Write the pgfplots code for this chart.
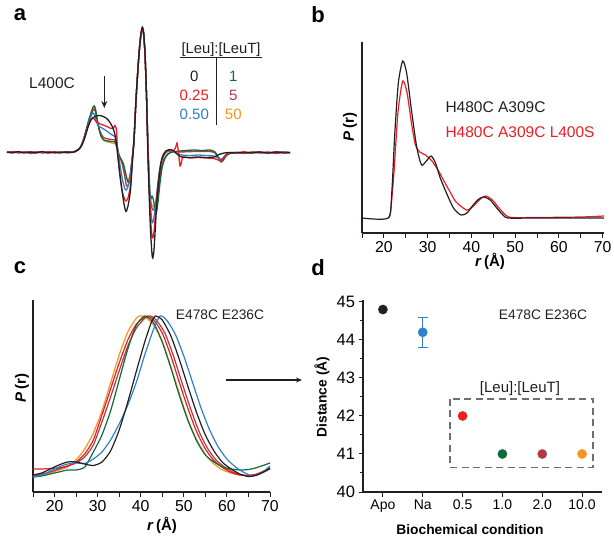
\documentclass[border=0pt]{standalone}
\usepackage{pgfplots}
\pgfplotsset{compat=1.18}
\usepackage{fontspec}
\setmainfont{Liberation Sans}
\usetikzlibrary{arrows.meta}
\definecolor{cblack}{HTML}{231F20}
\definecolor{cred}{HTML}{ED1C24}
\definecolor{cblue}{HTML}{2F80C8}
\definecolor{cgreen}{HTML}{0D6B3C}
\definecolor{cmaroon}{HTML}{B03A48}
\definecolor{corange}{HTML}{F7941D}
\definecolor{cgray}{HTML}{6D6E71}
\newcommand{\fs}[1]{\fontsize{#1}{#1}\selectfont}
\pgfplotsset{
  panel/.style={scale only axis, axis lines*=left, clip=false,
    axis line style={line width=1.2pt, cblack},
    tick align=outside, major tick length=4.5pt, minor tick length=4.5pt,
    every tick/.style={line width=1pt, cblack},
    tick label style={font=\fs{15.8}},
    /pgf/number format/assume math mode=true},
}
\begin{document}
\begin{tikzpicture}
\useasboundingbox (0,0) rectangle (614pt,-541pt);
% ---------------- panel a
\begin{axis}[at={(0pt,0pt)}, anchor=north west, scale only axis, width=300pt, height=270pt,
  xmin=0, xmax=300, ymin=-270, ymax=0, hide axis, clip=false]
\addplot[corange, line width=1.3pt, smooth, tension=0.4] coordinates {(7,-152)(40,-152.5)(73,-152)(77,-150.5)(80,-148)(83,-141)(86,-131)(88.5,-121)(91,-114)(93,-109)(94.5,-108)(96,-112)(98,-124)(100,-133)(103,-140)(108,-142)(112,-143)(115,-143.5)(117,-148)(119,-156)(122,-162)(125,-172)(127.5,-180)(130,-176)(132,-160)(134,-140)(136,-100)(138,-68)(139.5,-48)(141,-34)(142.3,-29)(143.5,-33)(145,-54)(146.5,-95)(147.5,-130)(149,-182)(151,-203)(153,-206)(155,-208)(157,-203)(159,-188)(161,-172)(164,-160)(168,-154)(172,-152)(180,-151.5)(195,-151)(210,-151)(215,-152.5)(219,-158)(221.5,-160)(224,-158)(228,-154)(236,-152.5)(260,-152.5)(290,-152.5)};
\addplot[cmaroon, line width=1.3pt, smooth, tension=0.4] coordinates {(7,-152)(40,-152.5)(73,-152)(77,-150.5)(80,-148)(83,-141)(86,-131)(88.5,-122)(91,-115)(93,-110)(94.5,-109.5)(96,-114)(98,-124)(100,-131)(103,-137)(108,-139)(112,-139.5)(115,-140)(117,-146)(119,-155)(122,-163)(124.5,-175)(126.5,-186)(128.5,-184)(130.5,-172)(132.5,-156)(134,-140)(136,-100)(138,-68)(139.5,-48)(141,-34)(142.3,-29)(143.5,-33)(145,-54)(146.5,-95)(147.5,-130)(149,-180)(151,-204)(153,-210)(155,-208)(157,-200)(159,-185)(161,-170)(164,-159)(168,-154)(172,-152)(180,-152)(195,-151.5)(210,-151.5)(215,-153)(219,-158)(221.5,-160)(224,-157.5)(228,-154)(236,-152.5)(260,-152.5)(290,-152.5)};
\addplot[cgreen, line width=1.3pt, smooth, tension=0.4] coordinates {(7,-152)(20,-152.5)(35,-152)(50,-152.5)(65,-152)(73,-152)(77,-150.5)(80,-148)(83,-141)(86,-131)(88.5,-121)(91,-113)(93,-107)(94.2,-106)(95.5,-109)(97,-119)(99,-129)(101,-136)(104,-140)(108,-141)(112,-141.5)(115,-142)(117,-147)(119,-155)(121,-159)(123.5,-164)(126,-175)(128,-182)(130,-178)(132,-160)(134,-140)(136,-100)(138,-68)(139.5,-48)(141,-34)(142.3,-29)(143.5,-33)(145,-54)(146.5,-95)(147.5,-130)(149,-185)(150.5,-199)(152,-196)(153.5,-200)(155,-210)(156.5,-212)(158,-202)(160,-183)(162,-168)(165,-158)(168,-154)(172,-152)(176,-151.5)(180,-151)(186,-150.5)(194,-150)(202,-150.5)(210,-150)(215,-152)(218.5,-158)(221,-162)(223.5,-160)(226,-156)(230,-153.5)(238,-152.5)(248,-153)(258,-152)(268,-153)(278,-152)(290,-152.5)};
\addplot[cblue, line width=1.3pt, smooth, tension=0.4] coordinates {(7,-152)(15,-152.5)(25,-152)(35,-152.5)(45,-152)(55,-152.5)(65,-152)(73,-152)(77,-150.5)(80,-148)(83,-142)(86,-133)(89,-122)(91.5,-115)(93,-113)(94.5,-115)(96.5,-122)(98.5,-126)(102,-128)(106,-130.5)(110,-133.5)(113,-135.5)(115,-136.5)(116.5,-142)(118,-152)(120,-165)(122.5,-180)(125,-189)(126.5,-190)(128.5,-185)(130.5,-175)(132.5,-158)(134,-140)(136,-100)(138,-68)(139.5,-48)(141,-34)(142.3,-29)(143.5,-33)(145,-54)(146.5,-95)(147.5,-130)(149,-170)(150.5,-205)(151.8,-221)(153,-222)(154.5,-214)(156,-200)(158,-182)(160,-168)(162.5,-158)(166,-152.5)(170,-151)(174,-152)(178,-154)(182,-155)(190,-155.5)(198,-155)(206,-155.5)(214,-156)(218,-158)(221,-159.5)(224,-157)(228,-153)(236,-152.5)(246,-153)(256,-152)(266,-153)(276,-152)(290,-152.5)};
\addplot[cred, line width=1.3pt, smooth, tension=0.4] coordinates {(7,-152.5)(13,-151.5)(19,-153)(25,-152)(31,-153.5)(37,-152)(43,-153)(49,-151.5)(55,-153)(61,-152)(67,-153)(73,-152)(77,-150.5)(80,-148)(83,-142)(86,-133)(89,-124)(91.5,-118.5)(93.5,-118)(96,-121.5)(99,-123.5)(103,-125)(107,-126.5)(111,-128.5)(113.5,-128)(115,-125.5)(116.5,-130)(117.5,-150)(119.5,-172)(122,-190)(124.5,-199)(126,-201)(128,-198)(130.5,-185)(132.5,-160)(134,-140)(136,-100)(138,-68)(139.5,-48)(141,-34)(142.3,-29)(143.5,-33)(145,-54)(146.5,-95)(147.5,-135)(149,-180)(150.5,-218)(152,-236)(152.8,-238)(154,-232)(155.5,-214)(157,-195)(159,-176)(161,-162)(163,-155)(166,-151)(170,-150.5)(173,-151)(175.5,-148)(177,-143)(178.5,-152)(180,-166)(181.5,-162)(183,-157)(190,-158)(198,-157.5)(206,-158)(214,-158.5)(218,-160)(221,-161)(224,-157)(228,-153)(236,-152.5)(244,-153.5)(252,-152)(260,-153)(268,-152)(276,-153.5)(284,-152)(290,-153)};
\addplot[cblack, line width=1.3pt, smooth, tension=0.4] coordinates {(7,-152)(12,-153)(18,-151.5)(24,-153)(30,-152)(36,-153)(42,-151.5)(48,-153)(54,-152)(60,-153)(66,-152)(72,-152.5)(76,-151)(79,-149)(82,-145)(85,-137)(88,-127)(91,-120)(94,-117)(98,-115.5)(102,-116)(106,-118)(109,-121)(112,-126)(114,-131)(116,-140)(118,-158)(121,-183)(124,-204)(126,-211.5)(128,-206)(130.5,-190)(132.5,-160)(134,-140)(136,-100)(138,-68)(139.5,-48)(141,-33)(142.3,-27)(143.5,-31)(145,-52)(146.5,-95)(147.5,-140)(149,-190)(150.5,-230)(152,-254)(152.8,-258)(154,-250)(155.5,-225)(157,-200)(159,-178)(161,-163)(163,-156)(166,-151)(170,-149.5)(174,-151)(178,-155)(182,-157)(190,-157.5)(198,-157)(206,-157.5)(214,-157)(218,-155)(222,-153.5)(228,-152.5)(236,-153)(244,-152)(252,-153)(260,-152)(268,-153)(276,-152)(284,-153)(290,-152.5)};
\end{axis}
\node[font=\fs{22}\bfseries] at (20pt,-15pt) {a};
\node[font=\fs{15.5}, text=cblack] at (52pt,-82.7pt) {L400C};
\draw[-{Stealth[length=7pt,width=6pt]}, line width=1.3pt, cblack] (104.3pt,-76pt) -- (104.3pt,-108pt);
\node[font=\fs{14.8}, text=cblack] at (221pt,-50pt) {[Leu]:[LeuT]};
\draw[line width=0.9pt, cblack] (180pt,-57pt) -- (262pt,-57pt);
\draw[line width=1.2pt, cblack] (216.7pt,-58pt) -- (216.7pt,-125pt);
\node[font=\fs{15}, text=cblack] at (194.3pt,-76.7pt) {0};
\node[font=\fs{15}, text=cred] at (194.3pt,-95.7pt) {0.25};
\node[font=\fs{15}, text=cblue] at (194.3pt,-114pt) {0.50};
\node[font=\fs{15}, text=cgreen] at (233.3pt,-76.7pt) {1};
\node[font=\fs{15}, text=cmaroon] at (233.3pt,-95.7pt) {5};
\node[font=\fs{15}, text=corange] at (233.3pt,-114pt) {50};
% ---------------- panel b
\begin{axis}[panel, at={(362pt,-233pt)}, anchor=south west, width=242pt, height=191pt,
  xmin=15, xmax=70.3, ymin=0, ymax=191, ytick=\empty,
  xtick={20,30,40,50,60,70}, minor xtick={15,25,35,45,55,65}]
\addplot[cred, line width=1.2pt, smooth, tension=0.4] coordinates {(21,15)(21.5,20)(22.3,60)(23.2,120)(24.3,152)(25.3,140)(26.3,110)(27.2,88)(28.2,81)(29.5,78)(31,72)(32.5,62)(33.6,53)(35,42)(36.5,31)(38.9,23)(40.5,27)(42,34)(43.3,37)(44.8,33)(46.3,25)(47.8,18)(49.2,15.5)(55,15.5)(65,16)(70.3,17)};
\addplot[cblack, line width=1.2pt, smooth, tension=0.4] coordinates {(15,15)(21,15)(21.8,40)(22.5,100)(23.3,150)(24.3,172)(25.2,160)(26.3,123)(27.5,86)(28.6,68)(29.7,72)(30.8,77)(31.8,70)(32.8,56)(34.3,40)(35.9,25)(37.6,18)(39,20)(40.4,28)(41.7,34)(42.9,36)(44.3,33)(45.8,25)(47,19)(48.4,15)(55,15)(70.3,15)};
\end{axis}
\node[font=\fs{22}\bfseries] at (318pt,-15pt) {b};
\node[font=\fs{15.5}, text=cblack, anchor=west] at (442pt,-107pt) {H480C A309C};
\node[font=\fs{15.5}, text=cred, anchor=west] at (442pt,-132pt) {H480C A309C L400S};
\node[font=\fs{15}\bfseries, rotate=90] at (350pt,-127pt) {\textit{P}\,(r)};
\node[font=\fs{15}\bfseries] at (490pt,-261pt) {\textit{r}\,(Å)};
% ---------------- panel c
\begin{axis}[panel, at={(33pt,-492pt)}, anchor=south west, width=237pt, height=192pt,
  xmin=15, xmax=70, ymin=0, ymax=192, ytick=\empty,
  xtick={20,30,40,50,60,70}, minor xtick={15,25,35,45,55,65}]
\addplot[corange, line width=1.2pt, smooth, tension=0.4] coordinates {(15,15)(17,17)(19,19)(21,22)(23,25)(25,32)(27,43)(29,59)(31,81)(33,109)(35,137)(37,160)(39,174)(39.9,176)(41,175)(43,167)(45,150)(47,125)(49,98)(51,72)(53,52)(55,37.5)(57,28)(59,22)(61,19)(63,17)(65,16.5)(67,18)(70,24)};
\addplot[cmaroon, line width=1.2pt, smooth, tension=0.4] coordinates {(15,16)(17,18)(19,20)(21,23)(23,26)(25,29)(27,35)(29,47)(31,70)(33,95)(35,121)(37,146)(39,164)(41,174)(42.3,176)(43.6,172)(45.6,159)(47.6,136)(49.6,109)(51.6,83)(53.6,60)(55.6,43)(57.6,31.5)(59.6,24.5)(61.6,19.5)(63.6,17)(65.6,16.5)(67.6,18.5)(70,23)};
\addplot[cred, line width=1.2pt, smooth, tension=0.4] coordinates {(15,23)(17,23)(19,23.5)(21,24)(23,26)(25,30)(27,38)(29,52)(31,77)(33,103)(35,129)(37,152)(39,168)(41,175)(41.7,176)(43,172)(45,159)(47,136)(49,109)(51,83)(53,60)(55,43)(57,31.5)(59,24.5)(61,19.5)(63,17)(65,16.5)(67,18)(70,24)};
\addplot[cgreen, line width=1.2pt, smooth, tension=0.4] coordinates {(15,15)(17,16)(19,18)(21,20)(23,22)(25,22)(27,25)(29,40)(31,57)(33,81)(35,112)(37,143)(39,167)(41,176)(43,169)(45,150)(47,124)(49,96)(51,71)(53,51)(55,37)(57,30)(59,25)(61,23)(63,22)(65,22.5)(67,24.5)(70,29)};
\addplot[cblue, line width=1.2pt, smooth, tension=0.4] coordinates {(15,15)(17,17)(19,21)(21,25)(23,28)(25,29)(27,28.5)(29,33)(31,40)(33,52)(35,68)(37,87)(39,110)(41,138)(43,163)(44.5,176)(46,172)(48,158)(50,136)(52,110)(54,84)(56,62)(58,45)(60,33)(62,25)(64,19.5)(66,16)(68,19)(70,26)};
\addplot[cblack, line width=1.2pt, smooth, tension=0.4] coordinates {(15,17)(17,19)(19,23)(21,27)(23,30)(25,30)(27,28)(29,26.5)(31,30)(33,41)(35,62)(37,90)(39,121)(41,151)(42.5,170)(43.4,176)(45,172)(47,156)(49,132)(51,105)(53,79)(55,57)(57,41)(59,29.5)(61,23)(63,18)(65,15.5)(67,17)(69,21)(70,24)};
\end{axis}
\node[font=\fs{22}\bfseries] at (20pt,-268pt) {c};
\node[font=\fs{13.8}, text=cblack] at (220pt,-315pt) {E478C E236C};
\node[font=\fs{15}\bfseries, rotate=90] at (22pt,-388pt) {\textit{P}\,(r)};
\node[font=\fs{15}\bfseries] at (162pt,-525pt) {\textit{r}\,(Å)};
\draw[-{Stealth[length=6pt,width=5pt]}, line width=1.2pt, cblack] (226pt,-380pt) -- (302pt,-380pt);
% ---------------- panel d
\begin{axis}[panel, at={(363pt,-492pt)}, anchor=south west, width=239pt, height=192pt,
  xmin=-0.5, xmax=5.5, ymin=40, ymax=45.05,
  ytick={40,41,42,43,44,45}, minor ytick={40.5,41.5,42.5,43.5,44.5}, minor tick length=3pt,
  yticklabel style={font=\fs{16.5}},
  xtick={0,1,2,3,4,5}, xticklabels={Apo,Na,0.5,1.0,2.0,10.0},
  xticklabel style={font=\fs{14}}]
\addplot[only marks, mark=*, mark size=4.6pt, cblack] coordinates {(0,44.8)};
\addplot[only marks, mark=*, mark size=4.6pt, cblue, error bars/.cd, y dir=both, y explicit,
  error bar style={line width=1pt, cblue}, error mark options={rotate=90, mark size=5pt, line width=1pt, cblue}]
  coordinates {(1,44.2) +- (0,0.4)};
\addplot[only marks, mark=*, mark size=4.6pt, cred] coordinates {(2,42.0)};
\addplot[only marks, mark=*, mark size=4.6pt, cgreen] coordinates {(3,41.0)};
\addplot[only marks, mark=*, mark size=4.6pt, cmaroon] coordinates {(4,41.0)};
\addplot[only marks, mark=*, mark size=4.6pt, corange] coordinates {(5,41.0)};
\draw[cgray, line width=1.5pt, dash pattern=on 7pt off 4.5pt] (axis cs:1.68,42.45) rectangle (axis cs:5.28,40.65);
\node[font=\fs{15}, text=cblack] at (axis cs:3.44,42.72) {[Leu]:[LeuT]};
\node[font=\fs{13.8}, text=cblack] at (axis cs:4.02,44.66) {E478C E236C};
\end{axis}
\node[font=\fs{22}\bfseries] at (318pt,-268pt) {d};
\node[font=\fs{13.8}\bfseries, rotate=90] at (322pt,-397pt) {Distance (Å)};
\node[font=\fs{13.8}\bfseries] at (470pt,-530pt) {Biochemical condition};
\end{tikzpicture}
\end{document}
